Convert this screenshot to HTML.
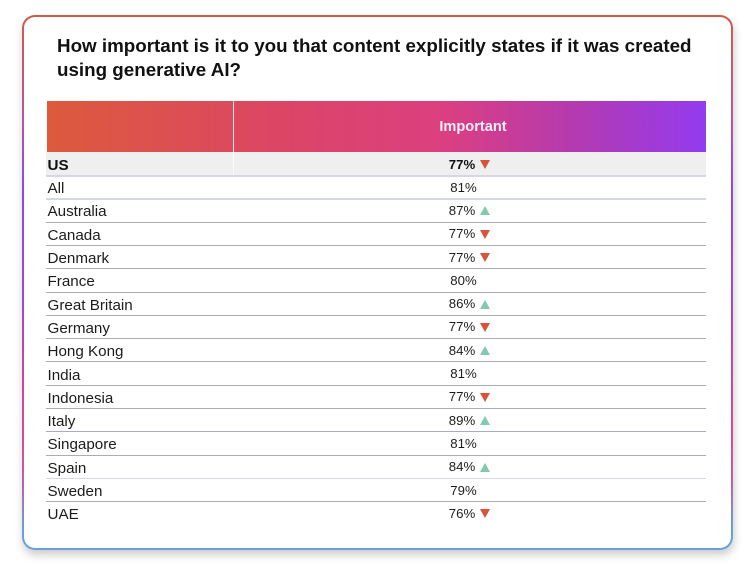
<!DOCTYPE html>
<html lang="en">
<head>
<meta charset="utf-8">
<title>Importance of labelling generative AI content</title>
<style>
html,body{margin:0;padding:0;background:#fff;width:755px;height:571px;overflow:hidden}
body{position:relative;font-family:"Liberation Sans",sans-serif;color:#1a1a1a}
#card{position:absolute;left:22px;top:15px;width:711px;height:535px;box-sizing:border-box;border-radius:13px;
 background:linear-gradient(#fff,#fff) padding-box,linear-gradient(180deg,#d05a48 0%,#b8589a 18%,#9545e6 33%,#a848c0 56%,#d84a90 78%,#b865a8 88%,#68a0dc 96%,#68a0dc 100%) border-box;
 border:2.5px solid transparent;box-shadow:1px 5px 9px rgba(0,0,0,.2)}
#title{position:absolute;left:57px;top:34px;width:680px;margin:0;font-size:18.8px;line-height:23.5px;font-weight:700;color:#111}
#header{position:absolute;left:47px;top:101px;width:659px;height:51px;background:linear-gradient(90deg,#dd5a3c 0%,#dc4468 38%,#dc3f80 60%,#b43ab0 80%,#933bf0 100%)}
#header-split{position:absolute;left:186px;top:0;width:1px;height:51px;background:#f4e6ea}
#header-label{position:absolute;left:190px;width:472px;top:1px;line-height:51px;text-align:center;font-size:14.6px;font-weight:700;color:#f6eef6}
#us-bg{position:absolute;left:46px;top:152px;width:660px;height:23px;background:#f0eff0}
#us-split{position:absolute;left:233px;top:152px;width:1px;height:23px;background:#fbfbfb}
.line{position:absolute;left:46px;width:660px;height:1px;background:#a9adb4}
.line.light{background:#d5d8de;height:1.5px}
.name,.val{position:absolute;line-height:20px;white-space:nowrap;color:#1c1c1c}
.name{left:47.5px;font-size:15.2px}
.val{left:233px;width:480px;text-align:center;font-size:13.2px}
.bold{font-weight:700;color:#111}
.tri{position:absolute;width:0;height:0;border-left:5px solid transparent;border-right:5px solid transparent}
.tri.up{border-bottom:9px solid #83c9ae}
.tri.down{border-top:9px solid #d8533a}
</style>
</head>
<body>
<div id="card"></div>
<h1 id="title">How important is it to you that content explicitly states if it was created<br>using generative AI?</h1>
<div id="header">
  <div id="header-split"></div>
  <div id="header-label">Important</div>
</div>
<div id="us-bg"></div>
<div id="us-split"></div>
<div id="rows"></div>
<script>
const countries = ["US","All","Australia","Canada","Denmark","France","Great Britain","Germany","Hong Kong","India","Indonesia","Italy","Singapore","Spain","Sweden","UAE"];
const importantPct = [77,81,87,77,77,80,86,77,84,81,77,89,81,84,79,76];
const trend = ["down","","up","down","down","","up","down","up","","down","up","","up","","down"];

const rowsEl = document.getElementById('rows');
const ROW_TOP = 176, ROW_H = 23.3, CENTER_X = 469.5;
const lightLines = [0, 1, 13];
function rowCenter(i){ return i === 0 ? 164.5 : ROW_TOP + (i - 1) * ROW_H + 11.6; }

countries.forEach(function(c, i){
  const cy = rowCenter(i);
  const name = document.createElement('div');
  
  
  name.className = 'name' + (i === 0 ? ' bold' : '');
  name.style.top = (cy - 8.5) + 'px';
  name.textContent = c;
  rowsEl.appendChild(name);

  const val = document.createElement('div');
  
  
  val.className = 'val' + (i === 0 ? ' bold' : '');
  val.style.top = (cy - 10) + 'px';
  const hasTri = !!trend[i];
  val.style.left = (hasTri ? 222 : 223.5) + 'px';
  val.textContent = importantPct[i] + '%';
  rowsEl.appendChild(val);

  if (hasTri) {
    const t = document.createElement('div');
    
    
    t.className = 'tri ' + trend[i];
    t.style.left = (CENTER_X + 10.5) + 'px';
    t.style.top = (cy - 4.5) + 'px';
    rowsEl.appendChild(t);
  }

  if (i < countries.length - 1) {
    const l = document.createElement('div');
    
    
    l.className = 'line' + (lightLines.indexOf(i) >= 0 ? ' light' : '');
    l.style.top = (ROW_TOP - 1 + i * ROW_H) + 'px';
    rowsEl.appendChild(l);
  }
});
</script>
</body>
</html>
